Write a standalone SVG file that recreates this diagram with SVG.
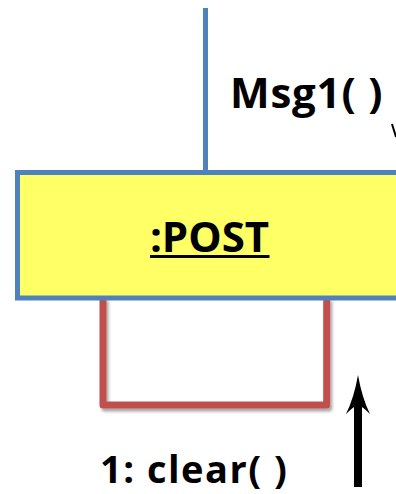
<svg xmlns="http://www.w3.org/2000/svg" width="396" height="494" viewBox="0 0 396 494">
<style>
.lbl{font-family:"Open Sans","Noto Sans","Liberation Sans",sans-serif;font-weight:bold;fill:#000}
</style>
<defs>
<filter id="sh" x="-20%" y="-20%" width="140%" height="140%">
<feDropShadow dx="2" dy="3" stdDeviation="1.5" flood-color="#000" flood-opacity="0.35"/>
</filter>
</defs>
<g id="connectors">
<line x1="205.5" y1="8" x2="205.5" y2="173" stroke="#4F81BD" stroke-width="5"/>
<path d="M103,298 V405 H326.7 V298" fill="none" stroke="#C0504D" stroke-width="7" stroke-linejoin="round" filter="url(#sh)"/>
<line x1="358" y1="487" x2="358" y2="400" stroke="#000" stroke-width="8"/>
<path d="M358,375 Q362,398 370,414 Q362,406 358,405 Q354,406 346,414 Q354,398 358,375 Z" fill="#000"/>
<path d="M392,124 L396,137" stroke="#000" stroke-width="2" fill="none"/>
</g>
<g id="post">
<rect x="17.5" y="172.5" width="420" height="125.5" fill="#FFFF66" stroke="#4F81BD" stroke-width="5"/>
<text class="lbl" x="209.5" y="252" font-size="42" text-anchor="middle">:POST</text>
<line x1="150" y1="256.5" x2="269.5" y2="256.5" stroke="#000" stroke-width="3"/>
</g>
<g id="labels">
<text class="lbl" x="230" y="108" font-size="42" letter-spacing="0.8">Msg1( )</text>
<text class="lbl" x="100" y="483" font-size="38" letter-spacing="1.5">1: clear( )</text>
</g>
</svg>
